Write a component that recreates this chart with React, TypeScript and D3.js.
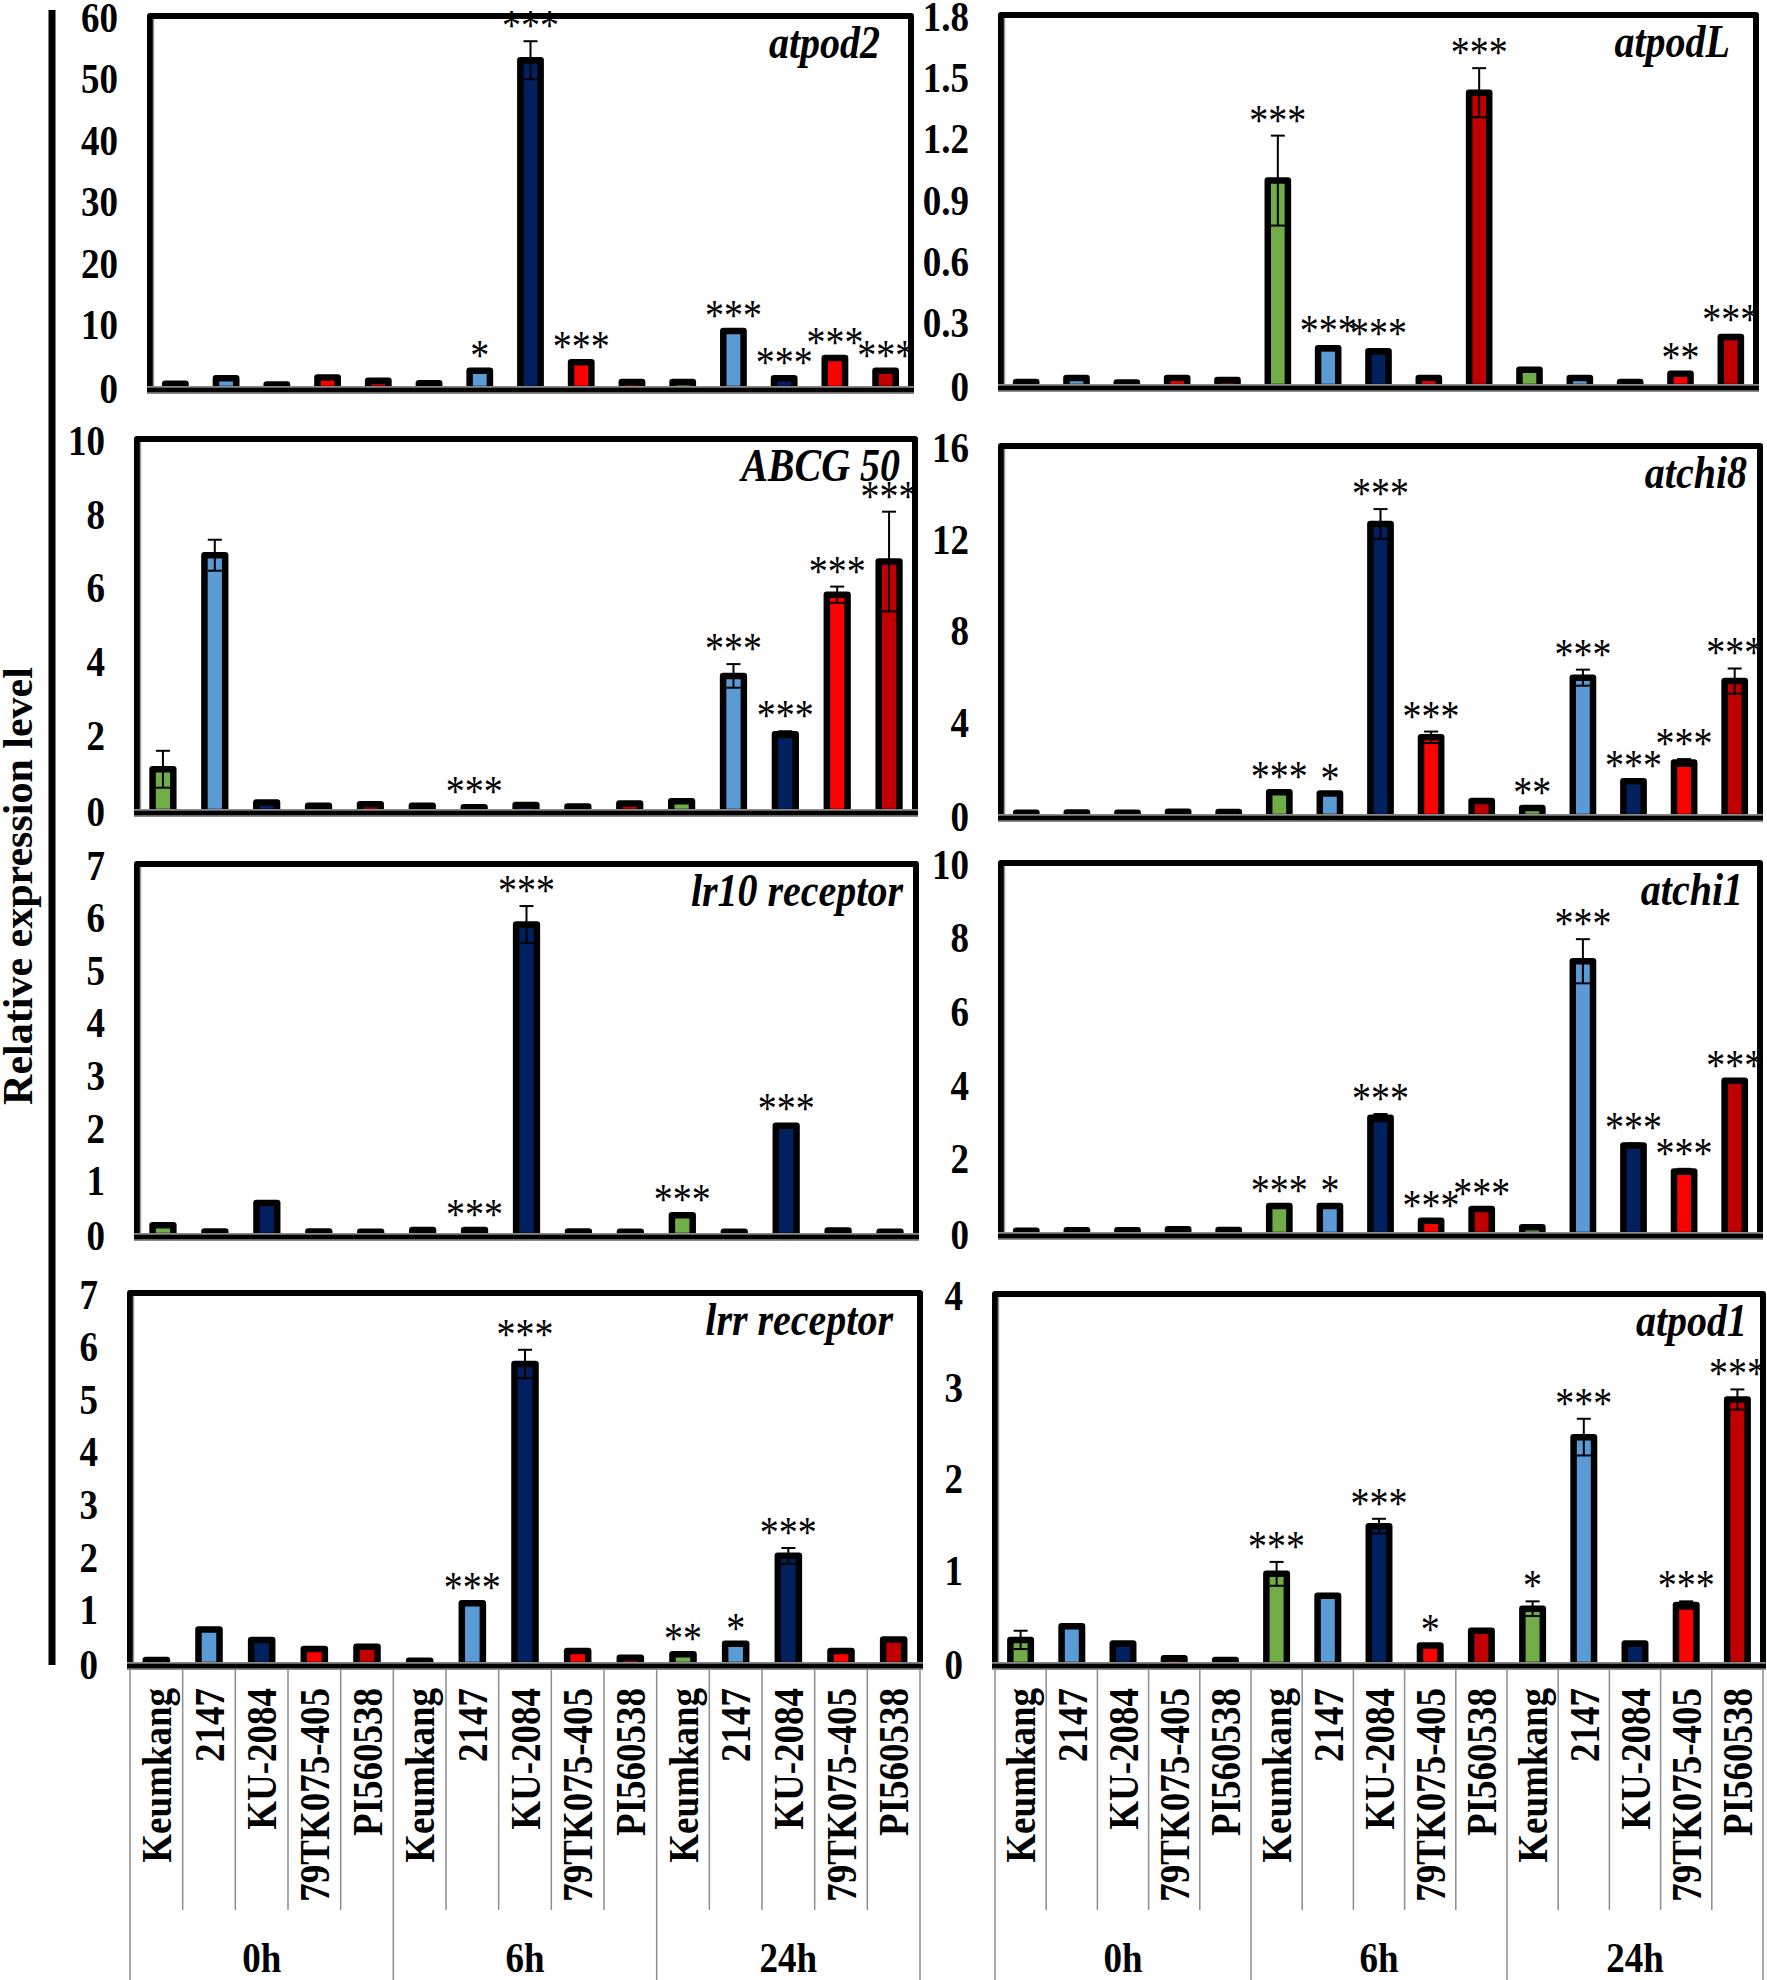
import React from "react";
import * as d3 from "d3";

// ---------- data ----------
const genotypes = ["Keumkang", "2147", "KU-2084", "79TK075-405", "PI560538"];
const timepoints = ["0h", "6h", "24h"];
const genotypeColors = ["#70AD47", "#5B9BD5", "#002060", "#FF0000", "#C00000"];
const yAxisTitle = "Relative expression level";

// order: 0h (5 genotypes), 6h (5), 24h (5)
const atpod2Values = [0.2, 1.1, 0.1, 1.2, 0.7, 0.3, 2.3, 52.8, 3.7, 0.5, 0.5, 8.8, 1.1, 4.4, 2.3];
const atpod2Errors = [0, 0, 0, 0, 0, 0, 0, 3.1, 0, 0, 0, 0, 0, 0, 0];
const atpod2Signif = ["", "", "", "", "", "", "*", "***", "***", "", "", "***", "***", "***", "***"];
const atpod2Ticks = [0, 10, 20, 30, 40, 50, 60];

const atpodLValues = [0.005, 0.025, 0.003, 0.025, 0.015, 0.99, 0.17, 0.155, 0.025, 1.42, 0.065, 0.025, 0.005, 0.045, 0.225];
const atpodLErrors = [0, 0, 0, 0, 0, 0.22, 0.01, 0.01, 0, 0.12, 0, 0, 0, 0.005, 0.01];
const atpodLSignif = ["", "", "", "", "", "***", "***", "***", "", "***", "", "", "", "**", "***"];
const atpodLTicks = [0, 0.3, 0.6, 0.9, 1.2, 1.5, 1.8];

const abcg50Values = [1.05, 6.85, 0.15, 0.06, 0.1, 0.06, 0.02, 0.08, 0.04, 0.12, 0.18, 3.58, 2.0, 5.78, 6.68];
const abcg50Errors = [0.5, 0.42, 0, 0, 0, 0, 0, 0, 0, 0, 0, 0.32, 0.08, 0.22, 1.35];
const abcg50Signif = ["", "", "", "", "", "", "***", "", "", "", "", "***", "***", "***", "***"];
const abcg50Ticks = [0, 2, 4, 6, 8, 10];

const atchi8Values = [0.01, 0.02, 0.01, 0.05, 0.04, 0.9, 0.85, 12.6, 3.3, 0.52, 0.22, 5.9, 1.38, 2.2, 5.75];
const atchi8Errors = [0, 0, 0, 0, 0, 0, 0, 0.65, 0.25, 0, 0, 0.35, 0, 0.15, 0.55];
const atchi8Signif = ["", "", "", "", "", "***", "*", "***", "***", "", "**", "***", "***", "***", "***"];
const atchi8Ticks = [0, 4, 8, 12, 16];

const lr10Values = [0.13, 0.01, 0.55, 0.01, 0.005, 0.04, 0.04, 5.85, 0.01, 0.005, 0.32, 0.005, 2.02, 0.03, 0.005];
const lr10Errors = [0, 0, 0, 0, 0, 0, 0, 0.35, 0, 0, 0, 0, 0.03, 0, 0];
const lr10Signif = ["", "", "", "", "", "", "***", "***", "", "", "***", "", "***", "", ""];
const lr10Ticks = [0, 1, 2, 3, 4, 5, 6, 7];

const atchi1Values = [0.01, 0.02, 0.02, 0.05, 0.03, 0.68, 0.68, 3.08, 0.28, 0.6, 0.1, 7.33, 2.32, 1.62, 4.08];
const atchi1Errors = [0, 0, 0, 0, 0, 0, 0, 0.1, 0, 0, 0, 0.6, 0.06, 0.07, 0];
const atchi1Signif = ["", "", "", "", "", "***", "*", "***", "***", "***", "", "***", "***", "***", "***"];
const atchi1Ticks = [0, 2, 4, 6, 8, 10];

const lrrValues = [0.02, 0.6, 0.4, 0.23, 0.27, 0.005, 1.1, 5.65, 0.19, 0.06, 0.13, 0.33, 2.0, 0.19, 0.41];
const lrrErrors = [0, 0, 0, 0, 0, 0, 0, 0.27, 0, 0, 0, 0, 0.15, 0, 0.02];
const lrrSignif = ["", "", "", "", "", "", "***", "***", "", "", "**", "*", "***", "", ""];
const lrrTicks = [0, 1, 2, 3, 4, 5, 6, 7];

const atpod1Values = [0.23, 0.38, 0.19, 0.03, 0.01, 0.95, 0.71, 1.47, 0.17, 0.33, 0.57, 2.44, 0.19, 0.61, 2.85];
const atpod1Errors = [0.1, 0, 0, 0, 0, 0.13, 0, 0.08, 0, 0, 0.08, 0.2, 0, 0.04, 0.11];
const atpod1Signif = ["", "", "", "", "", "***", "", "***", "*", "", "*", "***", "", "***", "***"];
const atpod1Ticks = [0, 1, 2, 3, 4];

const categories = timepoints.flatMap((t) => genotypes.map((g) => `${t}|${g}`));

// ---------- layout (positions only) ----------
const panels = [
  { gene: "atpod2", values: atpod2Values, errors: atpod2Errors, signif: atpod2Signif, ticks: atpod2Ticks, x0: 150, x1: 911, top: 16, base: 389, inset: 31 },
  { gene: "atpodL", values: atpodLValues, errors: atpodLErrors, signif: atpodLSignif, ticks: atpodLTicks, x0: 1001, x1: 1756, top: 15, base: 387, inset: 26 },
  { gene: "ABCG 50", values: abcg50Values, errors: abcg50Errors, signif: abcg50Signif, ticks: abcg50Ticks, x0: 137, x1: 915, top: 439, base: 812, inset: 15 },
  { gene: "atchi8", values: atchi8Values, errors: atchi8Errors, signif: atchi8Signif, ticks: atchi8Ticks, x0: 1001, x1: 1760, top: 446, base: 817, inset: 13 },
  { gene: "lr10 receptor", values: lr10Values, errors: lr10Errors, signif: lr10Signif, ticks: lr10Ticks, x0: 137, x1: 916, top: 864, base: 1236, inset: 13 },
  { gene: "atchi1", values: atchi1Values, errors: atchi1Errors, signif: atchi1Signif, ticks: atchi1Ticks, x0: 1001, x1: 1760, top: 863, base: 1235, inset: 17 },
  { gene: "lrr receptor", values: lrrValues, errors: lrrErrors, signif: lrrSignif, ticks: lrrTicks, x0: 130, x1: 920, top: 1293, base: 1665, inset: 27, xAxis: true },
  { gene: "atpod1", values: atpod1Values, errors: atpod1Errors, signif: atpod1Signif, ticks: atpod1Ticks, x0: 995, x1: 1763, top: 1294, base: 1665, inset: 16, xAxis: true },
];

const FONT = "'Liberation Serif', 'Times New Roman', serif";
const STRETCH = 1.14; // glyphs in the reference are taller than wide

function Panel({ p }: { p: any }) {
  const x = d3.scaleBand<string>().domain(categories).range([p.x0, p.x1]).paddingInner(0.6).paddingOuter(0.3);
  const maxTick = p.ticks[p.ticks.length - 1];
  const y = d3.scaleLinear().domain([0, maxTick]).range([p.base - 4, p.top]);
  const bw = x.bandwidth();
  const step = x.step();
  const groupX = d3.scaleBand<string>().domain(timepoints).range([p.x0, p.x1]);

  return (
    <g>
      {/* bars */}
      {categories.map((c, i) => {
        const v = p.values[i];
        return (
          <rect
            key={"b" + i}
            x={x(c)}
            y={y(v)}
            width={bw}
            height={Math.max(0, p.base - y(v))}
            fill={genotypeColors[i % 5]}
            stroke="#000"
            strokeWidth={6.5}
            strokeLinejoin="round"
          />
        );
      })}
      {/* error bars */}
      {categories.map((c, i) => {
        const e = p.errors[i];
        if (!e) return null;
        const v = p.values[i];
        const cx = (x(c) as number) + bw / 2;
        const yt = y(v + e);
        const yb = y(Math.max(0, v - e));
        return (
          <g key={"e" + i} stroke="#000" strokeWidth={2}>
            <line x1={cx} x2={cx} y1={yt} y2={yb} />
            <line x1={cx - 7} x2={cx + 7} y1={yt} y2={yt} />
            <line x1={cx - 7} x2={cx + 7} y1={yb} y2={yb} />
          </g>
        );
      })}
      {/* frame */}
      <path
        d={`M${p.x0},${p.base} L${p.x0},${p.top} L${p.x1},${p.top} L${p.x1},${p.base}`}
        fill="none"
        stroke="#000"
        strokeWidth={6}
        strokeLinejoin="round"
      />
      <line x1={p.x0 + 3.5} x2={p.x0 + 3.5} y1={p.top + 3} y2={p.base} stroke="#9a9a9a" strokeWidth={1.5} />
      <line x1={p.x0 - 3} x2={p.x1 + 3} y1={p.base + 1} y2={p.base + 1} stroke="#8a8a8a" strokeWidth={8} />
      <line x1={p.x0 - 3} x2={p.x1 + 3} y1={p.base + 1} y2={p.base + 1} stroke="#000" strokeWidth={4.5} />
      {/* significance */}
      {categories.map((c, i) => {
        const s = p.signif[i];
        if (!s) return null;
        const v = p.values[i] + (p.errors[i] || 0);
        const cx = (x(c) as number) + bw / 2;
        return (
          <text
            key={"s" + i}
            transform={`translate(${cx},${y(v) - 1}) scale(1,${STRETCH})`}
            textAnchor="middle"
            fontFamily={FONT}
            fontSize={38}
            fill="#000"
          >
            {s}
          </text>
        );
      })}
      {/* gene name */}
      <text
        transform={`translate(${p.x1 - p.inset},${p.top + 42}) scale(1,${STRETCH})`}
        textAnchor="end"
        fontFamily={FONT}
        fontStyle="italic"
        fontWeight="bold"
        fontSize={40}
      >
        {p.gene}
      </text>
      {/* y tick labels */}
      {p.ticks.map((t: number) => (
        <text
          key={"t" + t}
          transform={`translate(${p.x0 - 32},${y(t) + (t === 0 ? 3 : 1)}) scale(1,${STRETCH})`}
          dy="0.35em"
          textAnchor="end"
          fontFamily={FONT}
          fontWeight="bold"
          fontSize={37}
        >
          {String(t)}
        </text>
      ))}
      {/* x axis (bottom panels only) */}
      {p.xAxis && (
        <g>
          {d3.range(categories.length + 1).map((k) => {
            const xx = p.x0 + k * step;
            const full = k % 5 === 0;
            return (
              <line key={"d" + k} x1={xx} x2={xx} y1={p.base + 5} y2={full ? 1980 : 1910} stroke="#8c8c8c" strokeWidth={1.5} />
            );
          })}
          {categories.map((c, i) => {
            const cx = (x(c) as number) + bw / 2;
            return (
              <text
                key={"l" + i}
                transform={`translate(${cx},1688) rotate(-90) scale(1,${STRETCH})`}
                dy="0.35em"
                textAnchor="end"
                fontFamily={FONT}
                fontWeight="bold"
                fontSize={37}
              >
                {genotypes[i % 5]}
              </text>
            );
          })}
          {timepoints.map((t) => (
            <text
              key={"g" + t}
              transform={`translate(${(groupX(t) as number) + groupX.bandwidth() / 2},1957) scale(1,${STRETCH})`}
              dy="0.35em"
              textAnchor="middle"
              fontFamily={FONT}
              fontWeight="bold"
              fontSize={37}
            >
              {t}
            </text>
          ))}
        </g>
      )}
    </g>
  );
}

export default function App() {
  return (
    <svg
      width={1767}
      height={1980}
      viewBox="0 0 1767 1980"
      style={{ position: "absolute", left: 0, top: 0, background: "#fff" }}
    >
      <rect x={0} y={0} width={1767} height={1980} fill="#fff" />
      <line x1={52} x2={52} y1={10} y2={1665} stroke="#000" strokeWidth={7} />
      <text
        transform="translate(17,886) rotate(-90)"
        dy="0.35em"
        textAnchor="middle"
        fontFamily={FONT}
        fontWeight="bold"
        fontSize={42}
      >
        {yAxisTitle}
      </text>
      {panels.map((p) => (
        <Panel key={p.gene} p={p} />
      ))}
    </svg>
  );
}
